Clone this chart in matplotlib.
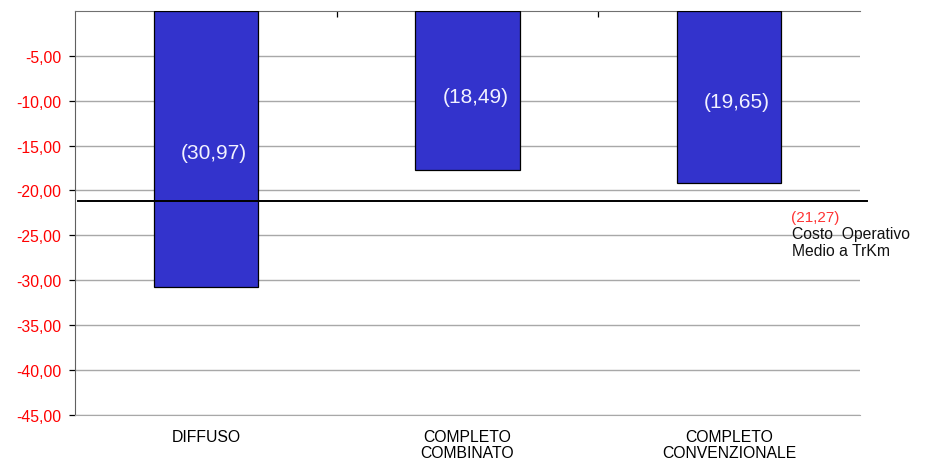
import numpy as np
import matplotlib
matplotlib.use("Agg")
import matplotlib.pyplot as plt

plt.rcParams['font.family'] = ['Liberation Sans', 'DejaVu Sans']

categorie = ["DIFFUSO", "COMPLETO\nCOMBINATO", "COMPLETO\nCONVENZIONALE"]
valori = [-30.8, -17.7, -19.2]          # altezza barre
etichette = ["(30,97)", "(18,49)", "(19,65)"]
etich_num = [30.97, 18.49, 19.65]
media = -21.2
etich_media = "(21,27)"
yticks = [-5, -10, -15, -20, -25, -30, -35, -40, -45]

fig = plt.figure(figsize=(9.26, 4.6), dpi=100)
ax = fig.add_axes([0.081, 0.0963, 0.8477, 0.8776])

x = np.arange(len(categorie))
ax.bar(x, valori, width=0.40, color="#3333CC", edgecolor="black", linewidth=0.9, zorder=3)

for i, (t, v) in enumerate(zip(etichette, etich_num)):
    ax.text(i + 0.03, -v / 2 - 0.3, t, color="#F2F2FF", fontsize=15,
            ha="center", va="center", zorder=4)

ax.plot([-0.49, 2.527], [media, media], color="black", linewidth=1.4,
        clip_on=False, zorder=5)
ax.text(2.327, -22.97, etich_media, color="#FF3333", fontsize=11,
        ha="center", va="center")
ax.text(2.242, -25.75, "Costo  Operativo\nMedio a TrKm", color="#111111",
        fontsize=11.3, ha="left", va="center", linespacing=1.2)

ax.set_xlim(-0.5, 2.5)
ax.set_ylim(-45, 0)
ax.set_yticks(yticks)
ax.set_yticklabels([("%.2f" % t).replace(".", ",") for t in yticks])
ax.tick_params(axis="y", colors="black", labelcolor="#FF0000", labelsize=11.3,
               length=4, width=0.9, pad=6)
ax.grid(axis="y", color="#A8A8A8", linewidth=1.0, zorder=0)

ax.set_xticks(x)
ax.set_xticklabels(categorie, fontsize=11.3, linespacing=1.07)
ax.tick_params(axis="x", which="major", length=0, pad=10.5)
ax.set_xticks([0.5, 1.5], minor=True)
ax.tick_params(axis="x", which="minor", top=True, bottom=False,
               direction="in", length=4, width=0.9, color="black")

ax.spines["right"].set_visible(False)
ax.spines["bottom"].set_color("#A8A8A8")
ax.spines["left"].set_color("#606060")
ax.spines["top"].set_color("#707070")

fig.savefig("out.png", dpi=100)
